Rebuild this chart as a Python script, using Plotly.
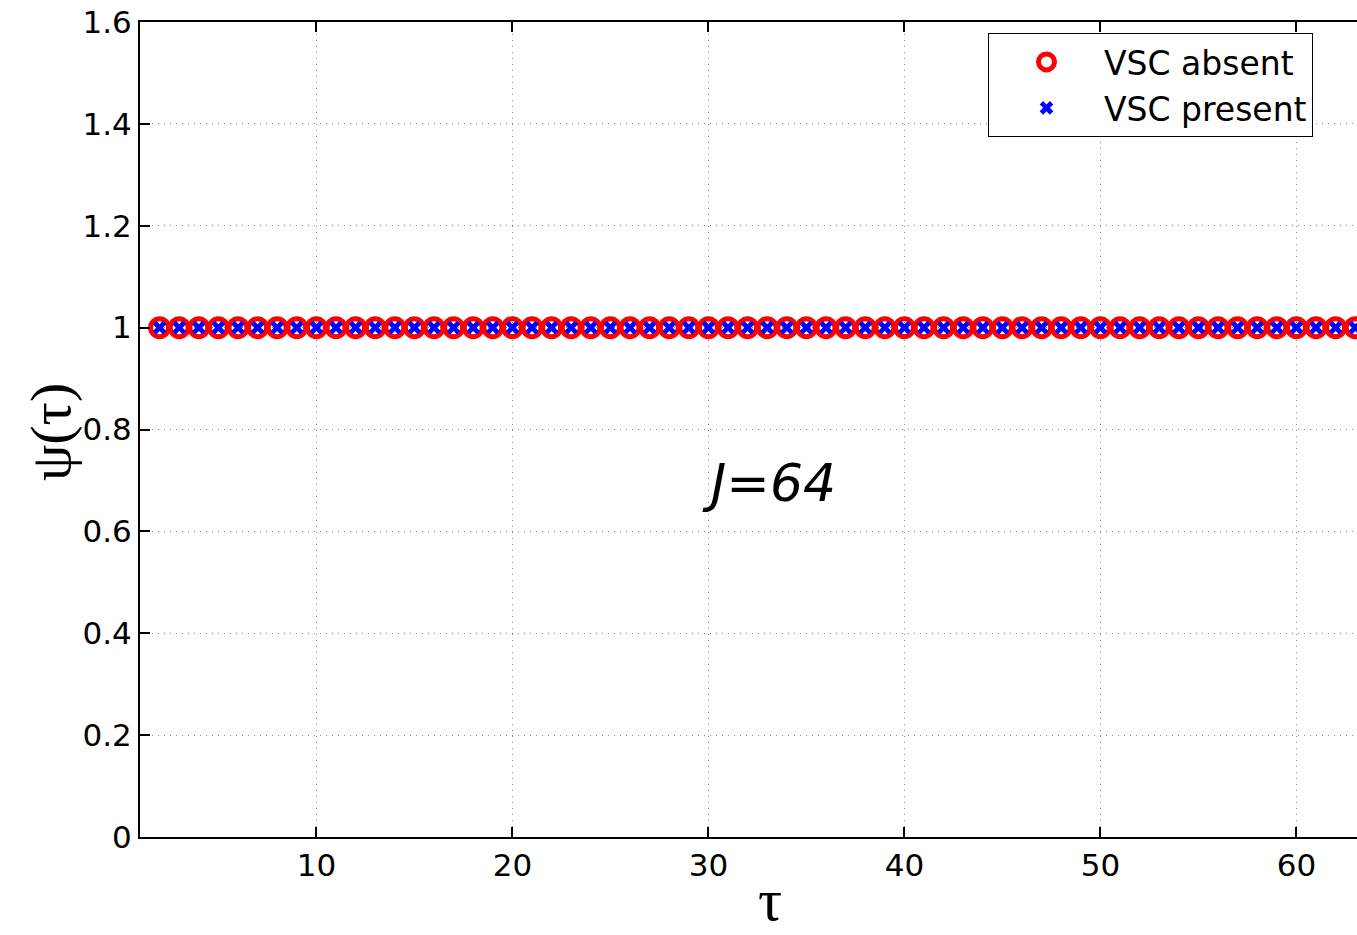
import plotly.graph_objects as go

tau = [2, 3, 4, 5, 6, 7, 8, 9, 10, 11, 12, 13, 14, 15, 16, 17, 18, 19, 20,
       21, 22, 23, 24, 25, 26, 27, 28, 29, 30, 31, 32, 33, 34, 35, 36, 37, 38,
       39, 40, 41, 42, 43, 44, 45, 46, 47, 48, 49, 50, 51, 52, 53, 54, 55, 56,
       57, 58, 59, 60, 61, 62, 63, 64]
psi_absent = [1.0] * len(tau)
psi_present = [1.0] * len(tau)

x_ticks = [10, 20, 30, 40, 50, 60]
y_ticks = [0, 0.2, 0.4, 0.6, 0.8, 1.0, 1.2, 1.4, 1.6]
y_ticklabels = ["0", "0.2", "0.4", "0.6", "0.8", "1", "1.2", "1.4", "1.6"]

fig = go.Figure()
fig.add_trace(go.Scatter(
    x=tau, y=psi_absent, mode="markers", name="VSC absent",
    marker=dict(symbol="circle-open", size=18, color="red",
                line=dict(width=5, color="red")),
))
fig.add_trace(go.Scatter(
    x=tau, y=psi_present, mode="markers", name="VSC present",
    marker=dict(symbol="x", size=12, color="blue", line=dict(width=0)),
))

font_main = "DejaVu Sans, Liberation Sans, Arial, sans-serif"
fig.update_layout(
    width=1357, height=935,
    margin=dict(l=140, r=0, t=22, b=98),
    paper_bgcolor="white", plot_bgcolor="white",
    font=dict(family=font_main, size=31, color="black"),
    showlegend=True,
    legend=dict(
        x=(988 - 140) / 1217, y=(837 - 33) / 815, xanchor="left", yanchor="top",
        bgcolor="white", bordercolor="black", borderwidth=1,
        font=dict(family=font_main, size=33, color="black"),
        itemwidth=105, tracegroupgap=0,
    ),
    xaxis=dict(
        range=[1, 63.09], tickvals=x_ticks,
        showline=True, linecolor="black", linewidth=2, mirror="ticks",
        ticks="inside", ticklen=10, tickcolor="black", tickwidth=1.5,
        showgrid=True, gridcolor="#888", griddash="1px,5px", gridwidth=1,
        zeroline=False,
        tickfont=dict(family=font_main, size=31, color="black"),
    ),
    yaxis=dict(
        range=[0, 1.6], tickvals=y_ticks, ticktext=y_ticklabels,
        showline=True, linecolor="black", linewidth=2, mirror=False,
        ticks="inside", ticklen=10, tickcolor="black", tickwidth=1.5,
        showgrid=True, gridcolor="#888", griddash="1px,5px", gridwidth=1,
        zeroline=False,
        tickfont=dict(family=font_main, size=31, color="black"),
    ),
    annotations=[
        dict(text="τ", xref="paper", yref="paper",
             x=(770 - 140) / 1217, y=-(935 - 837) / 815,
             xanchor="center", yanchor="bottom", showarrow=False,
             font=dict(family="Liberation Serif, Times New Roman, serif", size=60, color="black")),
        dict(text="ψ(τ)", xref="paper", yref="paper",
             x=-(140 - 50) / 1217, y=(837 - 432) / 815,
             xanchor="center", yanchor="middle", showarrow=False, textangle=-90,
             font=dict(family="Liberation Serif, Times New Roman, serif", size=58, color="black")),
        dict(text="<i>J=64</i>", x=33.1, y=0.694, xref="x", yref="y",
             xanchor="center", yanchor="middle", showarrow=False,
             font=dict(family=font_main, size=52, color="black")),
    ],
)

fig.write_html("out.html")
